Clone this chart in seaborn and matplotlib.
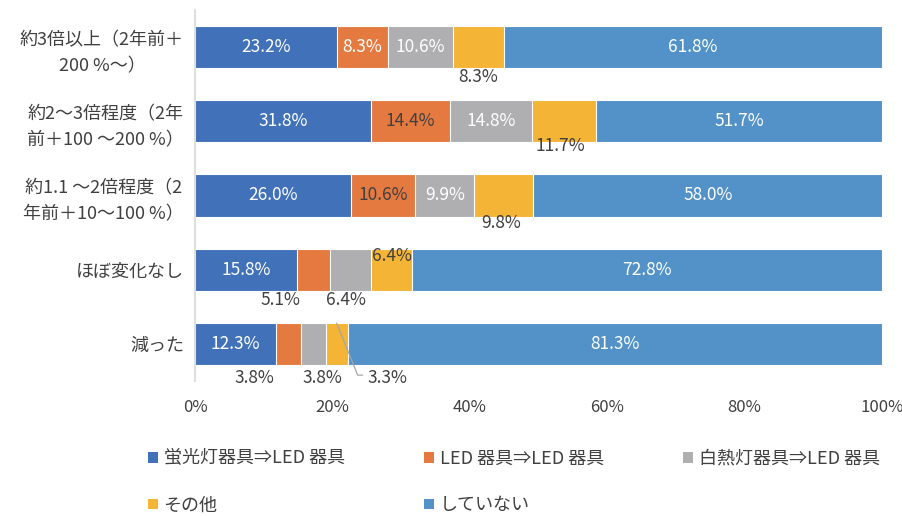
import matplotlib
matplotlib.use("Agg")
import matplotlib.pyplot as plt
from matplotlib.patches import Patch
from matplotlib.lines import Line2D
from matplotlib.transforms import IdentityTransform
import numpy as np
import pandas as pd
import seaborn as sns

# データ (回答の割合 %)
categories = ["約3倍以上（2年前＋\n200 %〜）",
              "約2〜3倍程度（2年\n前＋100 〜200 %）",
              "約1.1 〜2倍程度（2\n年前＋10〜100 %）",
              "ほぼ変化なし",
              "減った"]
series = ["蛍光灯器具⇒LED 器具", "LED 器具⇒LED 器具", "白熱灯器具⇒LED 器具", "その他", "していない"]
fluor = [23.2, 31.8, 26.0, 15.8, 12.3]
led = [8.3, 14.4, 10.6, 5.1, 3.8]
incand = [10.6, 14.8, 9.9, 6.4, 3.8]
other = [8.3, 11.7, 9.8, 6.4, 3.3]
none_ = [61.8, 51.7, 58.0, 72.8, 81.3]

colors = ["#4171B8", "#E57A41", "#AFAFB2", "#F4B436", "#5292C8"]

sns.set_theme(style="white")
plt.rcParams["font.family"] = ["Noto Sans CJK JP", "DejaVu Sans"]

vals = np.array([fluor, led, incand, other, none_])
share = vals / vals.sum(axis=0) * 100  # 100%積み上げ
cum = share.cumsum(axis=0)

fig = plt.figure(figsize=(9.02, 5.16), dpi=100)
ax = fig.add_axes([195 / 902, 1 - 381 / 516, 687 / 902, 371 / 516])

# 累積値を大きい方から重ねて描く
for i in reversed(range(len(series))):
    df = pd.DataFrame({"cat": categories, "v": cum[i]})
    sns.barplot(data=df, x="v", y="cat", color=colors[i], orient="h", width=0.57,
                edgecolor="white", linewidth=0.8, saturation=1, ax=ax)

ax.set_xlim(0, 100)
ax.set_ylim(4.5, -0.5)

# ラベルの置き方 (行, 系列): (dx, dy) ピクセル、文字色
dark = "#404040"
special = {
    (0, 3): (0, -30, dark), (1, 3): (-4, -25, dark), (2, 3): (-3, -28, dark),
    (3, 1): (-33, -30, dark), (3, 2): (-5, -30, dark), (3, 3): (0, 14, dark),
    (4, 1): (-34, -34, dark), (4, 2): (9, -34, dark), (4, 3): (51, -34, dark),
    (1, 1): (0, 0, dark), (2, 1): (0, 0, dark),
}
for r in range(len(categories)):
    for s in range(len(series)):
        left = cum[s - 1][r] if s > 0 else 0
        xc = left + share[s][r] / 2
        dx, dy, col = special.get((r, s), (0, 0, "white"))
        ax.annotate(f"{vals[s][r]:.1f}%", xy=(xc, r), xytext=(dx, dy),
                    textcoords="offset pixels", ha="center", va="center",
                    fontsize=12.5, color=col)

# 3.3% の引き出し線
r, s = 4, 3
xc = cum[s - 1][r] + share[s][r] / 2
x0, y0 = ax.transData.transform((xc, r - 0.28))
fig.add_artist(Line2D([x0, x0 + 21, x0 + 26], [y0, y0 - 52, y0 - 52],
                      color="#A6A6A6", lw=0.9, transform=IdentityTransform()))

ax.set_xticks([0, 20, 40, 60, 80, 100])
ax.set_xticklabels(["0%", "20%", "40%", "60%", "80%", "100%"])
ax.set_xlabel("")
ax.set_ylabel("")
ax.tick_params(axis="x", length=0, pad=13, labelsize=12, labelcolor=dark)
ax.tick_params(axis="y", length=0, pad=8, labelsize=13, labelcolor=dark)
for lab in ax.get_yticklabels():
    lab.set_multialignment("center")
    lab.set_linespacing(1.55)
for sp in ["top", "right", "bottom"]:
    ax.spines[sp].set_visible(False)
ax.spines["left"].set_color("#D9D9D9")
ax.grid(False)

# 凡例 (行優先に並べ替え)
handles = [Patch(facecolor=c, edgecolor="none") for c in colors]
order = [0, 3, 1, 4, 2]
fig.legend([handles[i] for i in order], [series[i] for i in order],
           ncol=3, loc="center left", bbox_to_anchor=(132 / 902, 1 - 482 / 516),
           frameon=False, fontsize=13, handlelength=0.55, handleheight=0.55,
           handletextpad=0.3, columnspacing=4.4, labelspacing=1.6,
           labelcolor=dark)

fig.savefig("out.png", dpi=100)
